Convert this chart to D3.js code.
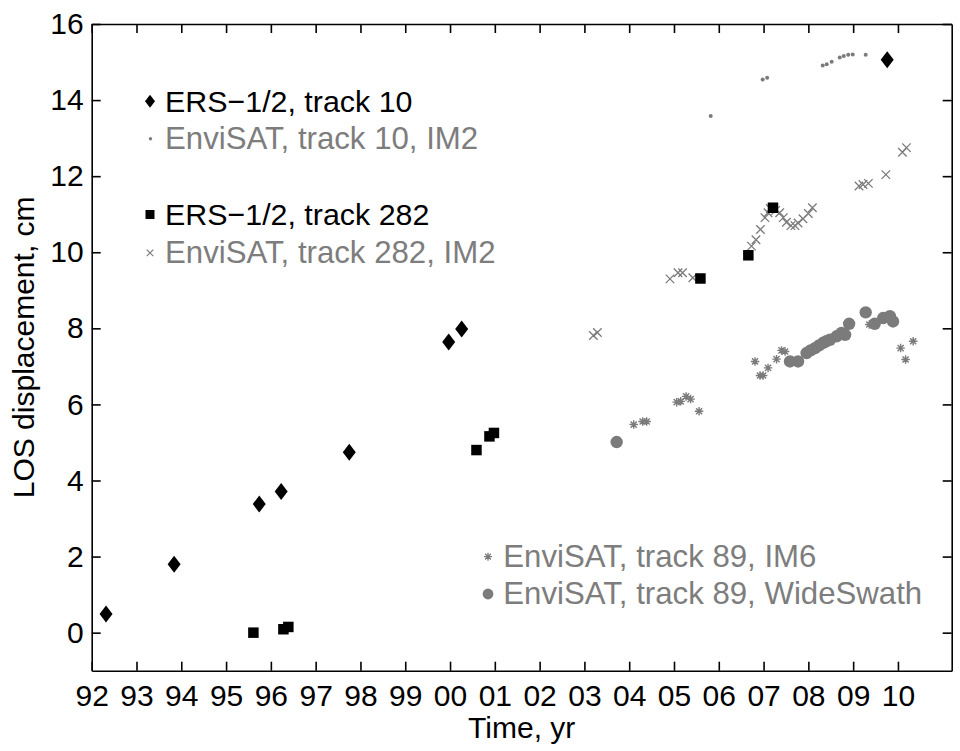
<!DOCTYPE html>
<html><head><meta charset="utf-8">
<script src="https://cdn.jsdelivr.net/npm/d3@7"></script>
<style>
html,body{margin:0;padding:0;background:#fff;}
svg{display:block;font-family:"Liberation Sans",Arial,Helvetica,sans-serif;}
</style></head>
<body>
<svg id="c" width="960" height="751"></svg>
<script>
// ---- data ----
const xTickYears = [1992,1993,1994,1995,1996,1997,1998,1999,2000,2001,2002,2003,2004,2005,2006,2007,2008,2009,2010];
const xTickLabels = ["92","93","94","95","96","97","98","99","00","01","02","03","04","05","06","07","08","09","10"];
const yTickValues = [0,2,4,6,8,10,12,14,16];

const ers10 = [[1992.32,0.49],[1993.84,1.80],[1995.74,3.38],[1996.23,3.71],[1997.75,4.74],[1999.97,7.64],[2000.26,7.98],[2009.76,15.06]];
const ers282 = [[1995.61,0.00],[1996.28,0.09],[1996.39,0.15],[2000.59,4.80],[2000.88,5.16],[2000.98,5.25],[2005.59,9.31],[2006.66,9.92],[2007.21,11.17]];
const env10 = [[2005.82,13.58],[2006.98,14.54],[2007.08,14.59],[2008.32,14.91],[2008.41,14.94],[2008.52,15.01],[2008.70,15.12],[2008.79,15.16],[2008.89,15.19],[2008.99,15.20],[2009.28,15.19]];
const env282 = [[2003.20,7.81],[2003.29,7.89],[2004.91,9.30],[2005.09,9.46],[2005.19,9.46],[2005.42,9.33],
  [2006.73,10.16],[2006.83,10.33],[2006.93,10.60],[2007.03,10.91],[2007.10,11.04],[2007.15,11.15],[2007.27,11.10],
  [2007.36,11.04],[2007.44,10.91],[2007.51,10.79],[2007.61,10.70],[2007.70,10.70],[2007.77,10.77],[2007.88,10.88],
  [2008.00,11.02],[2008.09,11.17],[2009.13,11.74],[2009.22,11.78],[2009.34,11.81],[2009.73,12.04],[2010.10,12.63],[2010.19,12.75]];
const env89im6 = [[2004.10,5.47],[2004.30,5.55],[2004.39,5.55],[2005.06,6.06],[2005.15,6.08],[2005.27,6.21],[2005.37,6.14],[2005.56,5.82],
  [2006.81,7.13],[2006.92,6.76],[2006.99,6.76],[2007.10,6.96],[2007.29,7.19],[2007.40,7.42],[2007.48,7.39],[2009.36,8.10],
  [2010.06,7.48],[2010.17,7.18],[2010.34,7.66]];
const env89ws = [[2003.72,5.01],[2007.59,7.13],[2007.77,7.13],[2007.96,7.35],[2008.05,7.42],[2008.15,7.48],[2008.24,7.55],[2008.33,7.62],
  [2008.40,7.66],[2008.48,7.70],[2008.63,7.79],[2008.74,7.88],[2008.82,7.83],[2008.91,8.12],[2009.28,8.42],[2009.48,8.12],
  [2009.67,8.27],[2009.82,8.32],[2009.89,8.18]];

const legendTop = ["ERS\u22121/2, track 10","EnviSAT, track 10, IM2","ERS\u22121/2, track 282","EnviSAT, track 282, IM2"];
const legendBottom = ["EnviSAT, track 89, IM6","EnviSAT, track 89, WideSwath"];

// ---- layout ----
const L = 91.7, R = 951.7, T = 24, B = 670.7;
const gray = "#7b7b7b", grayText = "#7d7d7d";
const svg = d3.select("#c");
const x = d3.scaleLinear().domain([1992, 2011.2]).range([L, R]);
const y = d3.scaleLinear().domain([-1, 16]).range([B, T]);

// marker path generators
const diamond = (w,h) => `M0,${-h/2}L${w/2},0L0,${h/2}L${-w/2},0Z`;
const square = s => `M${-s/2},${-s/2}h${s}v${s}h${-s}Z`;
const cross = s => `M${-s/2},${-s/2}L${s/2},${s/2}M${-s/2},${s/2}L${s/2},${-s/2}`;
const aster = s => { const a = s/2, b = s/2*0.72; return `M0,${-a}V${a}M${-a},0H${a}M${-b},${-b}L${b},${b}M${-b},${b}L${b},${-b}`; };

// axes
const fmtX = d => xTickLabels[xTickYears.indexOf(d)];
const axB = d3.axisBottom(x).tickValues(xTickYears).tickFormat(fmtX).tickSizeInner(-9).tickSizeOuter(0).tickPadding(14);
const axT = d3.axisTop(x).tickValues(xTickYears).tickFormat("").tickSizeInner(-9).tickSizeOuter(0);
const axL = d3.axisLeft(y).tickValues(yTickValues).tickFormat(d3.format("d")).tickSizeInner(-9).tickSizeOuter(0).tickPadding(8);
const axR = d3.axisRight(y).tickValues(yTickValues).tickFormat("").tickSizeInner(-9).tickSizeOuter(0);

function styleAxis(g){
  g.selectAll("path.domain").attr("stroke","#000").attr("stroke-width",1.6);
  g.selectAll(".tick line").attr("stroke","#000").attr("stroke-width",1.6);
  g.selectAll(".tick text").attr("fill","#000").style("font-size","30px").style("font-family","'Liberation Sans',Arial,Helvetica,sans-serif");
}
svg.append("g").attr("transform",`translate(0,${B})`).call(axB).call(styleAxis);
svg.append("g").attr("transform",`translate(0,${T})`).call(axT).call(styleAxis);
svg.append("g").attr("transform",`translate(${L},0)`).call(axL).call(styleAxis);
svg.append("g").attr("transform",`translate(${R},0)`).call(axR).call(styleAxis);

// axis labels
svg.append("text").attr("x",(L+R)/2).attr("y",738.3).attr("text-anchor","middle").style("font-size","30px").text("Time, yr");
svg.append("text").attr("transform",`translate(34,${(T+B)/2}) rotate(-90)`).attr("text-anchor","middle").style("font-size","30px").text("LOS displacement, cm");

// data markers
const plot = svg.append("g");
plot.selectAll("path.c282").data(env282).join("path").attr("class","c282")
  .attr("transform",d=>`translate(${x(d[0])},${y(d[1])})`).attr("d",cross(8.5)).attr("stroke",gray).attr("stroke-width",1.3).attr("fill","none");
plot.selectAll("circle.e10").data(env10).join("circle").attr("class","e10")
  .attr("cx",d=>x(d[0])).attr("cy",d=>y(d[1])).attr("r",2).attr("fill",gray);
plot.selectAll("path.im6").data(env89im6).join("path").attr("class","im6")
  .attr("transform",d=>`translate(${x(d[0])},${y(d[1])})`).attr("d",aster(8.5)).attr("stroke",gray).attr("stroke-width",1.4).attr("fill","none");
plot.selectAll("circle.ws").data(env89ws).join("circle").attr("class","ws")
  .attr("cx",d=>x(d[0])).attr("cy",d=>y(d[1])).attr("r",6.2).attr("fill",gray);
plot.selectAll("path.e10d").data(ers10).join("path").attr("class","e10d")
  .attr("transform",d=>`translate(${x(d[0])},${y(d[1])})`).attr("d",diamond(13,17)).attr("fill","#000");
plot.selectAll("path.e282s").data(ers282).join("path").attr("class","e282s")
  .attr("transform",d=>`translate(${x(d[0])},${y(d[1])})`).attr("d",square(10.5)).attr("fill","#000");

// legends
const lg = svg.append("g");
const topBase = [111.7,149.3,225,263.3];
const topColor = ["#000",grayText,"#000",grayText];
const topSize = ["30.4px","31.2px","30.4px","31.2px"];
legendTop.forEach((t,i)=>{
  lg.append("text").attr("x",165).attr("y",topBase[i]).attr("fill",topColor[i]).style("font-size",topSize[i]).text(t);
});
const my = i => topBase[i]-10.5;
lg.append("path").attr("transform",`translate(150,${my(0)})`).attr("d",diamond(10,13)).attr("fill","#000");
lg.append("circle").attr("cx",150.5).attr("cy",my(1)).attr("r",1.7).attr("fill",gray);
lg.append("path").attr("transform",`translate(150,${my(2)})`).attr("d",square(9)).attr("fill","#000");
lg.append("path").attr("transform",`translate(150,${my(3)})`).attr("d",cross(6.5)).attr("stroke",gray).attr("stroke-width",1.2).attr("fill","none");

const botBase = [566.7,604];
legendBottom.forEach((t,i)=>{
  lg.append("text").attr("x",503.3).attr("y",botBase[i]).attr("fill",grayText).style("font-size","31.2px").text(t);
});
lg.append("path").attr("transform",`translate(488,${botBase[0]-10})`).attr("d",aster(8)).attr("stroke",gray).attr("stroke-width",1.3).attr("fill","none");
lg.append("circle").attr("cx",488).attr("cy",botBase[1]-10).attr("r",5.4).attr("fill",gray);
</script>
</body></html>
